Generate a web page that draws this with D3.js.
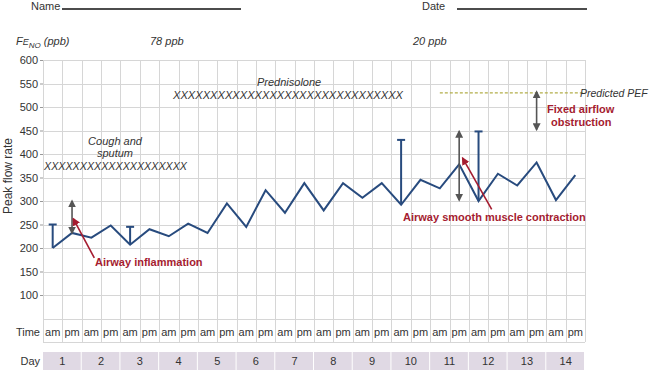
<!DOCTYPE html>
<html>
<head>
<meta charset="utf-8">
<script src="https://cdn.jsdelivr.net/npm/d3@7"></script>
<style>
  body { margin: 0; background: #fff; }
  svg { display: block; font-family: "Liberation Sans", Arial, sans-serif; }
</style>
</head>
<body>
<script>
// data
var days = [1,2,3,4,5,6,7,8,9,10,11,12,13,14];
var halves = ["am", "pm"];
var peakFlow = [200,232,222,248,207,240,225,252,232,295,245,323,275,338,
                280,338,307,338,292,345,327,378,300,358,333,382,302,355];
// single puffs before the morning reading: [slot, top value]
var errorBars = [[0,250],[4,245],[18,430],[22,448]];
var yTicks = [100,150,200,250,300,350,400,450,500,550,600];
var predictedPEF = 530;
// grey double arrows: [slot, low value, high value]
var spanArrows = [[1,232,300],[21,302,448],[25,452,532]];
// red pointers: [slot from, value from, slot to, value to]
var pointers = [[2.15,179,1.07,262],[22.68,282,21.18,391]];

var W = 650, H = 370;
var left = 43, right = 585;

var slots = [];
days.forEach(function(d){ halves.forEach(function(h){ slots.push(d + h); }); });

var svg = d3.select("body").append("svg").attr("width", W).attr("height", H);

var x = d3.scaleBand().domain(slots).range([left, right]);
var y = d3.scaleLinear().domain([50, 600]).range([318.5, 60]);
var bw = x.bandwidth();
var cx = function(i) { return left + bw * (i + 0.5); };   // fractional slot centre
var timeBot = 342, dayTop = 352, dayBot = 370;

var ink = "#333", red = "#a51c30", grey = "#555", blue = "#284b7e", gridC = "#d6d6d6";

// header
svg.append("text").attr("x", 31).attr("y", 10).attr("font-size", 11).attr("fill", ink).text("Name");
svg.append("line").attr("x1", 62).attr("x2", 241).attr("y1", 9).attr("y2", 9).attr("stroke", "#111").attr("stroke-width", 1.4);
svg.append("text").attr("x", 422).attr("y", 10).attr("font-size", 11).attr("fill", ink).text("Date");
svg.append("line").attr("x1", 457).attr("x2", 587).attr("y1", 9).attr("y2", 9).attr("stroke", "#111").attr("stroke-width", 1.4);

var feno = svg.append("text").attr("x", 16).attr("y", 45).attr("font-size", 11)
  .attr("font-style", "italic").attr("fill", ink);
feno.append("tspan").text("F");
feno.append("tspan").attr("font-size", 9).text("E");
feno.append("tspan").attr("font-size", 8).attr("dy", 3).text("NO");
feno.append("tspan").attr("dy", -3).text(" (ppb)");
svg.append("text").attr("x", 150).attr("y", 45).attr("font-size", 11).attr("font-style", "italic").attr("fill", ink).text("78 ppb");
svg.append("text").attr("x", 413).attr("y", 45).attr("font-size", 11).attr("font-style", "italic").attr("fill", ink).text("20 ppb");

// grid
var grid = svg.append("g").attr("stroke", gridC).attr("stroke-width", 1);
grid.selectAll(".h").data(yTicks.concat([50])).enter().append("line")
  .attr("x1", left).attr("x2", right)
  .attr("y1", function(d){ return Math.round(y(d)) + 0.5; })
  .attr("y2", function(d){ return Math.round(y(d)) + 0.5; });
grid.append("line").attr("x1", left).attr("x2", right).attr("y1", timeBot + 0.5).attr("y2", timeBot + 0.5);
grid.selectAll(".v").data(d3.range(slots.length + 1)).enter().append("line")
  .attr("x1", function(i){ return Math.round(left + i * bw) + 0.5; })
  .attr("x2", function(i){ return Math.round(left + i * bw) + 0.5; })
  .attr("y1", y(600)).attr("y2", timeBot);

// y axis
var yAxis = svg.append("g").attr("transform", "translate(" + left + ",0)")
  .call(d3.axisLeft(y).tickValues(yTicks).tickSize(3).tickPadding(2));
yAxis.select(".domain").remove();
yAxis.selectAll("line").attr("stroke", "#999");
yAxis.selectAll("text").attr("font-size", 11).attr("fill", ink).attr("font-family", null);
svg.append("text").attr("transform", "translate(12,176) rotate(-90)").attr("text-anchor", "middle")
  .attr("font-size", 12).attr("fill", ink).text("Peak flow rate");

// time row
svg.append("text").attr("x", 40).attr("y", 335.5).attr("text-anchor", "end").attr("font-size", 11).attr("fill", ink).text("Time");
svg.selectAll(".tl").data(slots).enter().append("text")
  .attr("x", function(d){ return x(d) + bw / 2; }).attr("y", 335.5)
  .attr("text-anchor", "middle").attr("font-size", 11).attr("fill", ink)
  .text(function(d){ return d.slice(-2); });

// day row
svg.append("text").attr("x", 40).attr("y", 365).attr("text-anchor", "end").attr("font-size", 11).attr("fill", ink).text("Day");
svg.selectAll(".dc").data(days).enter().append("rect")
  .attr("x", function(d){ return x(d + "am"); }).attr("y", dayTop)
  .attr("width", bw * 2 - 1).attr("height", dayBot - dayTop)
  .attr("fill", "#e0d9e4");
svg.selectAll(".dl").data(days).enter().append("text")
  .attr("x", function(d){ return x(d + "pm"); }).attr("y", 365)
  .attr("text-anchor", "middle").attr("font-size", 11).attr("fill", ink).text(function(d){ return d; });

// annotation texts
function txt(t, px, py, opts) {
  var e = svg.append("text").attr("x", px).attr("y", py).attr("font-size", 11).attr("fill", ink).text(t);
  Object.keys(opts || {}).forEach(function(k){ e.attr(k, opts[k]); });
  return e;
}
txt("Cough and", 115, 145, {"text-anchor": "middle", "font-style": "italic"});
txt("sputum", 115, 157, {"text-anchor": "middle", "font-style": "italic"});
txt("XXXXXXXXXXXXXXXXXXXX", 44, 170, {"font-style": "italic", "textLength": 143, "lengthAdjust": "spacingAndGlyphs"});
txt("Prednisolone", 257, 86, {"font-style": "italic"});
txt("XXXXXXXXXXXXXXXXXXXXXXXXXXXXXXX", 173, 99, {"font-style": "italic", "textLength": 230, "lengthAdjust": "spacingAndGlyphs"});

// predicted PEF
svg.append("line").attr("x1", cx(20)).attr("x2", cx(27.5))
  .attr("y1", y(predictedPEF)).attr("y2", y(predictedPEF))
  .attr("stroke", "#b3ae4a").attr("stroke-width", 1.3).attr("stroke-dasharray", "3,2");
txt("Predicted PEF", 580, y(predictedPEF) + 4, {"font-style": "italic", "font-size": 10.5});

// PEF line and error bars
var bars = svg.append("g").attr("stroke", blue).attr("stroke-width", 2);
errorBars.forEach(function(b) {
  bars.append("line").attr("x1", cx(b[0])).attr("x2", cx(b[0])).attr("y1", y(peakFlow[b[0]])).attr("y2", y(b[1]));
  bars.append("line").attr("x1", cx(b[0]) - 4).attr("x2", cx(b[0]) + 4).attr("y1", y(b[1])).attr("y2", y(b[1]));
});
svg.append("path").datum(peakFlow)
  .attr("fill", "none").attr("stroke", blue).attr("stroke-width", 2).attr("stroke-linejoin", "miter")
  .attr("d", d3.line().x(function(d, i){ return cx(i); }).y(function(d){ return y(d); }));

// arrows
var defs = svg.append("defs");
function marker(id, color) {
  defs.append("marker").attr("id", id).attr("viewBox", "0 0 10 10").attr("refX", 8).attr("refY", 5)
    .attr("markerWidth", 5).attr("markerHeight", 5).attr("orient", "auto-start-reverse")
    .append("path").attr("d", "M0,0L10,5L0,10z").attr("fill", color);
}
marker("ag", grey);
marker("ar", red);
spanArrows.forEach(function(a) {
  svg.append("line").attr("x1", cx(a[0])).attr("x2", cx(a[0])).attr("y1", y(a[1])).attr("y2", y(a[2]))
    .attr("stroke", grey).attr("stroke-width", 1.6)
    .attr("marker-start", "url(#ag)").attr("marker-end", "url(#ag)");
});
pointers.forEach(function(p) {
  svg.append("line").attr("x1", cx(p[0])).attr("y1", y(p[1])).attr("x2", cx(p[2])).attr("y2", y(p[3]))
    .attr("stroke", red).attr("stroke-width", 1.6).attr("marker-end", "url(#ar)");
});

txt("Airway inflammation", 95, 266, {"font-weight": "bold", "fill": red});
txt("Airway smooth muscle contraction", 403, 221, {"font-weight": "bold", "fill": red});
txt("Fixed airflow", 547, 113, {"font-weight": "bold", "fill": red});
txt("obstruction", 551, 126, {"font-weight": "bold", "fill": red});
</script>
</body>
</html>
